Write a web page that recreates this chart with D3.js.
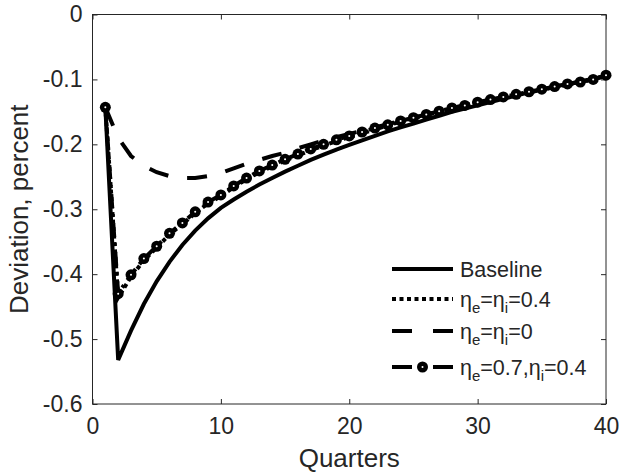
<!DOCTYPE html>
<html>
<head>
<meta charset="utf-8">
<script src="https://cdn.jsdelivr.net/npm/d3@7"></script>
<style>
  html, body { margin: 0; padding: 0; background: #fff; }
  svg { display: block; }
  text { font-family: "Liberation Sans", Arial, sans-serif; fill: #262626; }
</style>
</head>
<body>
<svg id="chart" width="619" height="475"></svg>
<script>
const quarters = d3.range(1, 41);
const baseline = [-0.143,-0.532,-0.487,-0.446,-0.411,-0.381,-0.355,-0.333,-0.314,-0.298,
  -0.285,-0.273,-0.262,-0.252,-0.242,-0.233,-0.224,-0.216,-0.208,-0.201,
  -0.194,-0.187,-0.180,-0.174,-0.168,-0.162,-0.156,-0.150,-0.145,-0.140,
  -0.135,-0.130,-0.125,-0.120,-0.116,-0.111,-0.107,-0.103,-0.099,-0.095];
const eta04 = [-0.143,-0.436,-0.404,-0.379,-0.359,-0.339,-0.323,-0.306,-0.291,-0.280,
  -0.266,-0.254,-0.243,-0.234,-0.225,-0.217,-0.209,-0.202,-0.195,-0.189,
  -0.183,-0.177,-0.171,-0.165,-0.160,-0.155,-0.150,-0.145,-0.141,-0.136,
  -0.132,-0.128,-0.124,-0.120,-0.116,-0.112,-0.108,-0.104,-0.100,-0.094];
const eta0 = [-0.143,-0.190,-0.218,-0.233,-0.243,-0.249,-0.252,-0.252,-0.249,-0.244,
  -0.237,-0.230,-0.224,-0.218,-0.213,-0.206,-0.200,-0.194,-0.189,-0.184,
  -0.179,-0.174,-0.169,-0.164,-0.159,-0.154,-0.149,-0.144,-0.140,-0.135,
  -0.131,-0.127,-0.123,-0.119,-0.115,-0.111,-0.107,-0.104,-0.100,-0.096];
const eta07 = [-0.143,-0.430,-0.401,-0.376,-0.357,-0.337,-0.321,-0.304,-0.289,-0.278,
  -0.264,-0.252,-0.241,-0.232,-0.223,-0.215,-0.207,-0.200,-0.193,-0.187,
  -0.181,-0.175,-0.170,-0.164,-0.159,-0.154,-0.149,-0.144,-0.140,-0.135,
  -0.131,-0.127,-0.123,-0.119,-0.115,-0.111,-0.107,-0.104,-0.100,-0.0935];
const xTicks = [0, 10, 20, 30, 40];
const yTicks = [0, -0.1, -0.2, -0.3, -0.4, -0.5, -0.6];
const yTickLabels = ["0", "-0.1", "-0.2", "-0.3", "-0.4", "-0.5", "-0.6"];

const svg = d3.select("#chart");
const L = 92.5, R = 606, T = 14.5, B = 404;
const x = d3.scaleLinear().domain([0, 40]).range([L, R]);
const y = d3.scaleLinear().domain([-0.6, 0]).range([B, T]);
const axCol = "#262626";

svg.append("rect").attr("x", L).attr("y", T).attr("width", R - L).attr("height", B - T)
  .attr("fill", "none").attr("stroke", axCol).attr("stroke-width", 1);

const xAxis = svg.append("g").attr("transform", `translate(0,${B})`)
  .call(d3.axisBottom(x).tickValues(xTicks).tickSizeInner(-5).tickSizeOuter(0).tickPadding(14).tickFormat(d3.format("d")));
const xAxisTop = svg.append("g").attr("transform", `translate(0,${T})`)
  .call(d3.axisTop(x).tickValues(xTicks).tickSizeInner(-5).tickSizeOuter(0));
const yAxis = svg.append("g").attr("transform", `translate(${L},0)`)
  .call(d3.axisLeft(y).tickValues(yTicks).tickSizeInner(-5).tickSizeOuter(0).tickPadding(10)
    .tickFormat((d, i) => yTickLabels[i]));
const yAxisR = svg.append("g").attr("transform", `translate(${R},0)`)
  .call(d3.axisRight(y).tickValues(yTicks).tickSizeInner(-5).tickSizeOuter(0));
[xAxisTop, yAxisR].forEach(g => g.selectAll("text").remove());
[xAxis, xAxisTop, yAxis, yAxisR].forEach(g => {
  g.select(".domain").remove();
  g.selectAll("line").attr("stroke", axCol);
  g.selectAll("text").attr("font-size", 23).attr("fill", axCol)
    .attr("font-family", '"Liberation Sans", Arial, sans-serif');
});

svg.append("text").attr("x", (L + R) / 2).attr("y", 467).attr("text-anchor", "middle")
  .attr("font-size", 26).text("Quarters");
svg.append("text").attr("transform", `translate(28,${(T + B) / 2}) rotate(-90)`)
  .attr("text-anchor", "middle").attr("font-size", 26).text("Deviation, percent");

const line = d3.line().x((d, i) => x(quarters[i])).y(d => y(d));
const plot = svg.append("g");

plot.append("path").datum(baseline).attr("d", line).attr("fill", "none")
  .attr("stroke", "#000").attr("stroke-width", 4).attr("stroke-linejoin", "miter");
plot.append("path").datum(eta04).attr("d", line).attr("fill", "none")
  .attr("stroke", "#000").attr("stroke-width", 4).attr("stroke-dasharray", "4,3.5");
plot.append("path").datum(eta0).attr("d", line).attr("fill", "none")
  .attr("stroke", "#000").attr("stroke-width", 4).attr("stroke-dasharray", "20,19");
plot.append("path").datum(eta07).attr("d", line).attr("fill", "none")
  .attr("stroke", "#000").attr("stroke-width", 4).attr("stroke-dasharray", "14,6,3,6");
plot.selectAll("circle.m").data(eta07).enter().append("circle").attr("class", "m")
  .attr("cx", (d, i) => x(quarters[i])).attr("cy", d => y(d)).attr("r", 5.5).attr("fill", "#000");
plot.selectAll("circle.c").data(eta07).enter().append("circle").attr("class", "c")
  .attr("cx", (d, i) => x(quarters[i])).attr("cy", d => y(d)).attr("r", 1).attr("fill", "#fff");

const lg = svg.append("g");
const lx0 = 392, lx1 = 453, tx = 460;
const rows = [269, 299, 331, 367];
lg.append("line").attr("x1", lx0).attr("x2", lx1).attr("y1", rows[0]).attr("y2", rows[0])
  .attr("stroke", "#000").attr("stroke-width", 4);
lg.append("line").attr("x1", lx0).attr("x2", lx1).attr("y1", rows[1]).attr("y2", rows[1])
  .attr("stroke", "#000").attr("stroke-width", 4).attr("stroke-dasharray", "4,3.5");
lg.append("line").attr("x1", lx0).attr("x2", lx1).attr("y1", rows[2]).attr("y2", rows[2])
  .attr("stroke", "#000").attr("stroke-width", 4).attr("stroke-dasharray", "20,21");
lg.append("line").attr("x1", lx0).attr("x2", lx1).attr("y1", rows[3]).attr("y2", rows[3])
  .attr("stroke", "#000").attr("stroke-width", 4).attr("stroke-dasharray", "20,21");
lg.append("circle").attr("cx", (lx0 + lx1) / 2).attr("cy", rows[3]).attr("r", 5.5).attr("fill", "#000");
lg.append("circle").attr("cx", (lx0 + lx1) / 2).attr("cy", rows[3]).attr("r", 1).attr("fill", "#fff");

function legText(yy, parts) {
  const t = lg.append("text").attr("x", tx).attr("y", yy + 7.5).attr("font-size", 21.5).attr("fill", "#000");
  let shift = 0;
  parts.forEach(p => {
    const target = p.sub ? 6 : 0;
    const ts = t.append("tspan").attr("dy", target - shift).text(p.s);
    if (p.sub) ts.attr("font-size", 15);
    shift = target;
  });
}
legText(rows[0], [{s: "Baseline"}]);
legText(rows[1], [{s: "\u03B7"}, {s: "e", sub: true}, {s: "=\u03B7"}, {s: "i", sub: true}, {s: "=0.4"}]);
legText(rows[2], [{s: "\u03B7"}, {s: "e", sub: true}, {s: "=\u03B7"}, {s: "i", sub: true}, {s: "=0"}]);
legText(rows[3], [{s: "\u03B7"}, {s: "e", sub: true}, {s: "=0.7,\u03B7"}, {s: "i", sub: true}, {s: "=0.4"}]);
</script>
</body>
</html>
